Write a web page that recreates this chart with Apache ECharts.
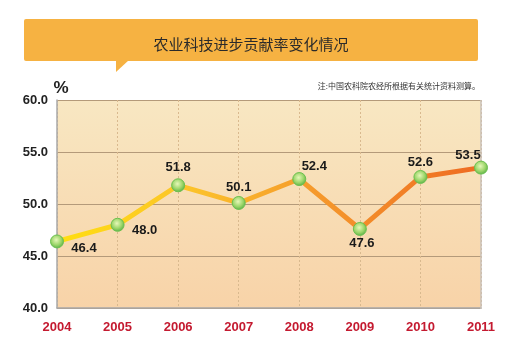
<!DOCTYPE html>
<html><head><meta charset="utf-8">
<script src="https://cdn.jsdelivr.net/npm/echarts@6/dist/echarts.min.js"></script>
<style>html,body{margin:0;padding:0;background:#fff}#c{width:520px;height:349px}</style>
</head><body><div id="c"></div>
<script>
const years = ['2004','2005','2006','2007','2008','2009','2010','2011'];
const values = [46.4, 48.0, 51.8, 50.1, 52.4, 47.6, 52.6, 53.5];
const yTicks = [40, 45, 50, 55, 60];
const titleText = '农业科技进步贡献率变化情况';
const noteText = '注:中国农科院农经所根据有关统计资料测算。';
const unitText = '%';

// label placement (style only)
const labelOffsets = [[27,7],[27,6],[0,-18],[0,-16],[15,-13],[2,14],[0,-15],[-13,-12]];

const chart = echarts.init(document.getElementById('c'), null, {renderer:'canvas'});
const G = echarts.graphic;
chart.setOption({
  animation:false,
  backgroundColor:'#ffffff',
  grid:{left:57,right:39,top:100,bottom:41,show:true,borderWidth:0,
    backgroundColor:new G.LinearGradient(0,0,0,1,[{offset:0,color:'#F8E7C2'},{offset:1,color:'#F8D3A8'}])},
  graphic:[
    {type:'rect',shape:{x:24,y:19,width:454,height:42,r:2},style:{fill:'#F6B242'},z:1},
    {type:'polygon',shape:{points:[[116,60],[129,60],[116,72]]},style:{fill:'#F6B242'},z:1},
    {type:'text',x:251,y:44,style:{text:titleText,font:'15px "Noto Sans CJK SC"',fill:'#2a2a2a',align:'center',verticalAlign:'middle'},z:2},
    {type:'text',x:480,y:86,style:{text:noteText,font:'8px "Noto Sans CJK SC"',fill:'#333',align:'right',verticalAlign:'middle'},z:2},
    {type:'text',x:61,y:88,style:{text:unitText,font:'bold 17px "Liberation Sans"',fill:'#222',align:'center',verticalAlign:'middle'},z:2},
    {type:'line',shape:{x1:481,y1:100,x2:481,y2:309},style:{stroke:'#C8C0B8',lineWidth:1.5},z:2}
  ],
  xAxis:{type:'category',data:years,boundaryGap:false,
    axisLine:{show:true,lineStyle:{color:'#A8A8A8',width:1.5}},
    axisTick:{show:false},
    axisLabel:{color:'#C41A30',fontWeight:'bold',fontSize:13,fontFamily:'Liberation Sans',margin:13},
    splitLine:{show:true,lineStyle:{color:'#D9B98E',type:[2,2],width:1}}},
  yAxis:{type:'value',min:yTicks[0],max:yTicks[yTicks.length-1],interval:5,
    axisLine:{show:true,lineStyle:{color:'#A8A8A8',width:1.5}},
    axisTick:{show:false},
    axisLabel:{color:'#222',fontWeight:'bold',fontSize:13,fontFamily:'Liberation Sans',margin:9,
      formatter:v=>v.toFixed(1)},
    splitLine:{show:true,lineStyle:{color:'#B49A7A',width:1}}},
  series:[{
    type:'line',
    data:values.map((v,i)=>({value:v,label:{offset:labelOffsets[i]}})),
    symbol:'circle',symbolSize:13,
    lineStyle:{width:5,color:new G.LinearGradient(0,0,1,0,[
      {offset:0,color:'#FFDF10'},{offset:0.3,color:'#FCC52A'},{offset:0.6,color:'#F59A2C'},{offset:1,color:'#EE6A22'}])},
    itemStyle:{color:new G.RadialGradient(0.45,0.4,0.6,[{offset:0,color:'#E6F7B8'},{offset:0.6,color:'#9CD66A'},{offset:1,color:'#58B048'}]),
      borderColor:'#6CC050',borderWidth:1},
    label:{show:true,position:'inside',color:'#1a1a1a',fontWeight:'bold',fontSize:13,fontFamily:'Liberation Sans',
      formatter:p=>p.value.toFixed(1)},
    z:5
  }]
});
</script></body></html>
